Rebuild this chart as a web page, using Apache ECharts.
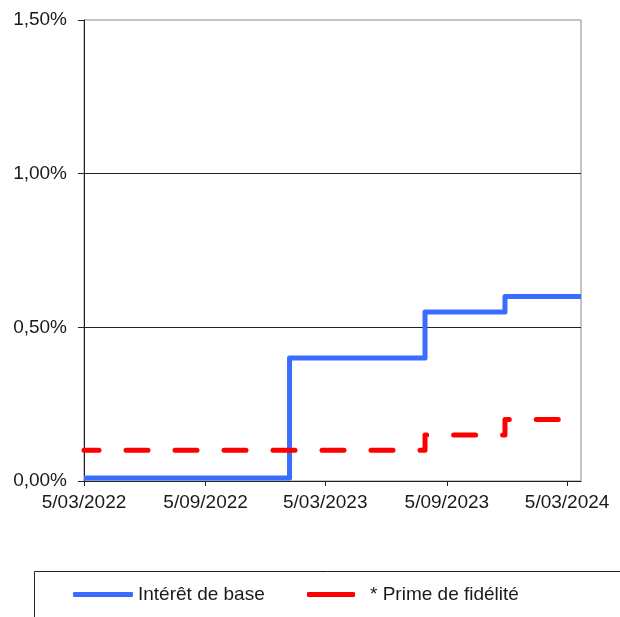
<!DOCTYPE html>
<html>
<head>
<meta charset="utf-8">
<script src="https://cdn.jsdelivr.net/npm/echarts@6/dist/echarts.min.js"></script>
<style>
html,body{margin:0;padding:0;background:#fff;}
#chart{width:620px;height:617px;}
</style>
</head>
<body>
<div id="chart"></div>
<script>
// Data (percent values)
const seriesNames = ['Intérêt de base', '* Prime de fidélité'];
const baseDates = ['2022-03-05', '2023-01-10', '2023-08-03', '2023-12-02', '2024-03-26'];
const baseValues = [0.01, 0.40, 0.55, 0.60, 0.60];
const primeDates = ['2022-03-05', '2023-08-03', '2023-12-02', '2024-03-26'];
const primeValues = [0.10, 0.15, 0.20, 0.20];
const xTickDates = ['2022-03-05', '2022-09-05', '2023-03-05', '2023-09-05', '2024-03-05'];
const xMin = '2022-03-05';
const xMax = '2024-03-26';

function toTs(s) {
  const p = s.split('-').map(Number);
  return new Date(p[0], p[1] - 1, p[2]).getTime();
}
function fmtDate(v) {
  const d = new Date(v);
  const mm = String(d.getMonth() + 1).padStart(2, '0');
  return d.getDate() + '/' + mm + '/' + d.getFullYear();
}
function zip(ds, vs) { return ds.map((d, i) => [toTs(d), vs[i]]); }

const chart = echarts.init(document.getElementById('chart'), null, {renderer: 'canvas'});
const textColor = '#1a1a1a';
const font = 'Liberation Sans, Arial, sans-serif';
const blue = '#3a6cff';
const red = '#ff0000';

chart.setOption({
  backgroundColor: '#ffffff',
  animation: false,
  grid: {
    left: 84, right: 39, top: 20, bottom: 136,
    show: true, borderColor: '#8a8a8a', borderWidth: 1, backgroundColor: 'transparent'
  },
  legend: [
    {
      data: [seriesNames[0]], left: 73, top: 585, padding: 0, orient: 'horizontal',
      icon: 'roundRect', itemWidth: 60, itemHeight: 5, itemGap: 0,
      textStyle: {fontSize: 19, color: textColor, fontFamily: font},
      itemStyle: {color: blue, borderWidth: 0, borderType: [1000, 0]},
      lineStyle: {type: [1000, 0], width: 0}
    },
    {
      data: [seriesNames[1]], left: 307, top: 585, padding: 0, orient: 'horizontal',
      icon: 'roundRect', itemWidth: 48, itemHeight: 5, itemGap: 0,
      textStyle: {fontSize: 19, color: textColor, fontFamily: font, padding: [0, 0, 0, 10]},
      itemStyle: {color: red, borderColor: red, borderWidth: 0, borderType: [1000, 0]},
      lineStyle: {type: [1000, 0], color: red, width: 0}
    }
  ],
  graphic: [
    {
      type: 'rect', silent: true, z: 0,
      shape: {x: 34.5, y: 571.5, width: 600, height: 60},
      style: {fill: 'none', stroke: '#222', lineWidth: 1}
    }
  ],
  xAxis: {
    type: 'value',
    min: toTs(xMin), max: toTs(xMax),
    axisLine: {show: true, lineStyle: {color: '#222', width: 1}},
    axisTick: {show: true, length: 5, lineStyle: {color: '#222'}, customValues: xTickDates.map(toTs)},
    axisLabel: {
      customValues: xTickDates.map(toTs),
      formatter: fmtDate, fontSize: 19, color: textColor, fontFamily: font, margin: 12,
      showMinLabel: true, showMaxLabel: true, hideOverlap: false
    },
    splitLine: {show: false}
  },
  yAxis: {
    type: 'value', min: 0, max: 1.5, interval: 0.5,
    axisLine: {show: true, lineStyle: {color: '#222', width: 1}},
    axisTick: {show: true, length: 6, lineStyle: {color: '#222'}},
    axisLabel: {
      formatter: v => v.toFixed(2).replace('.', ',') + '%',
      fontSize: 19, color: textColor, fontFamily: font, margin: 17
    },
    splitLine: {show: true, showMinLine: false, showMaxLine: false, lineStyle: {color: '#222', width: 1}}
  },
  series: [
    {
      name: seriesNames[0], type: 'line', step: 'end',
      data: zip(baseDates, baseValues),
      showSymbol: false, symbol: 'none', color: blue,
      itemStyle: {color: blue},
      lineStyle: {color: blue, width: 5, join: 'round', cap: 'butt'},
      z: 3
    },
    {
      name: seriesNames[1], type: 'line', step: 'end',
      data: zip(primeDates, primeValues),
      showSymbol: false, symbol: 'none', color: red,
      itemStyle: {color: red},
      lineStyle: {color: red, width: 5, type: [22, 27], dashOffset: 7, cap: 'round', join: 'round'},
      z: 4
    }
  ]
});
</script>
</body>
</html>
